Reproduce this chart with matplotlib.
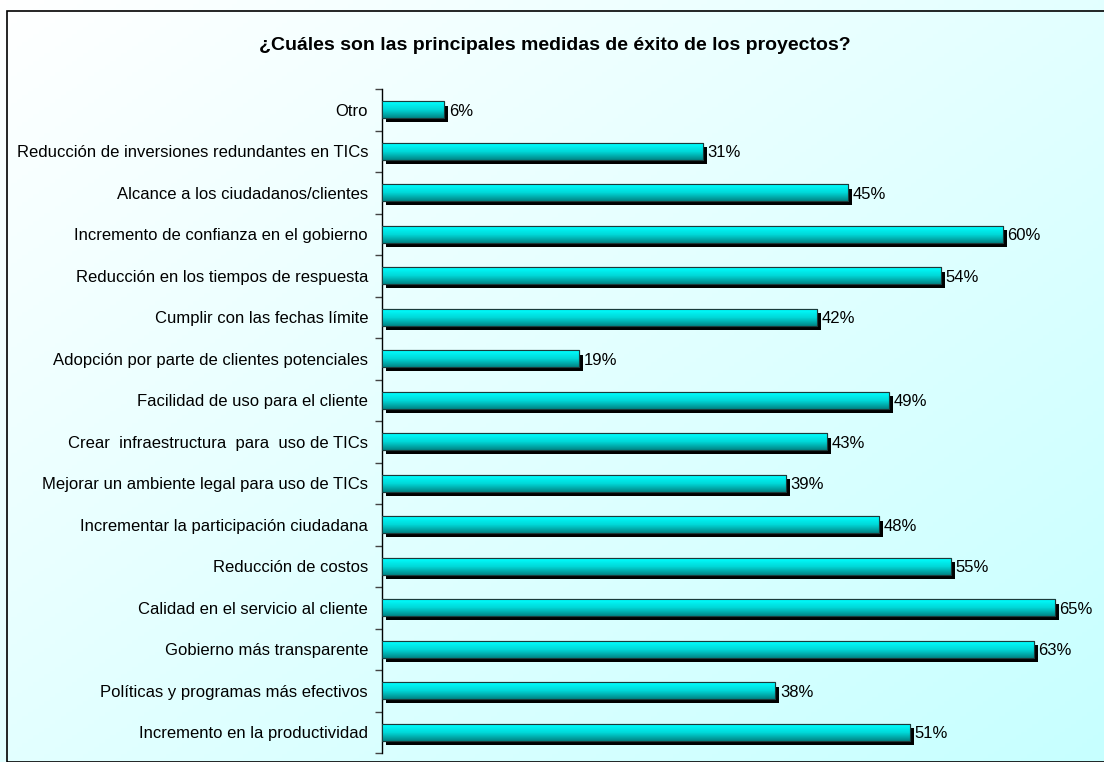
import numpy as np
import matplotlib.pyplot as plt
import matplotlib.patheffects as pe
from matplotlib.patches import Rectangle
from matplotlib.colors import LinearSegmentedColormap

plt.rcParams['font.family'] = ['Liberation Sans', 'DejaVu Sans']

# data, top to bottom as in the chart
labels = ["Otro",
          "Reducción de inversiones redundantes en TICs",
          "Alcance a los ciudadanos/clientes",
          "Incremento de confianza en el gobierno",
          "Reducción en los tiempos de respuesta",
          "Cumplir con las fechas límite",
          "Adopción por parte de clientes potenciales",
          "Facilidad de uso para el cliente",
          "Crear  infraestructura  para  uso de TICs",
          "Mejorar un ambiente legal para uso de TICs",
          "Incrementar la participación ciudadana",
          "Reducción de costos",
          "Calidad en el servicio al cliente",
          "Gobierno más transparente",
          "Políticas y programas más efectivos",
          "Incremento en la productividad"]
values = [6, 31, 45, 60, 54, 42, 19, 49, 43, 39, 48, 55, 65, 63, 38, 51]
title = "¿Cuáles son las principales medidas de éxito de los proyectos?"

W, H = 1104, 762
fig = plt.figure(figsize=(W / 100, H / 100), dpi=100)

# background gradient (white top-left -> light cyan bottom-right)
bg = fig.add_axes([0, 0, 1, 1], zorder=-10)
gx, gy = np.meshgrid(np.linspace(0, 1, 200), np.linspace(0, 1, 200))
t = np.clip((gx + gy) / 2.0, 0, 1)
c0 = np.array([1.0, 1.0, 1.0])
c1 = np.array([0.78, 1.0, 1.0])
img = c0[None, None, :] * (1 - t[..., None]) + c1[None, None, :] * t[..., None]
bg.imshow(img, extent=[0, 1, 0, 1], aspect='auto', origin='upper')
bg.add_patch(Rectangle((7 / W, 0), 1.0, 1 - 11 / H, fill=False, ec='black', lw=1.2,
                       transform=bg.transAxes))
bg.set_xlim(0, 1)
bg.set_ylim(0, 1)
bg.axis('off')

fig.text(555 / W, 1 - 46 / H, title, ha='center', va='center',
         fontsize=14, fontweight='bold')

ax = fig.add_axes([382 / W, 9 / H, 714 / W, 664 / H])
ax.patch.set_alpha(0)
n = len(labels)
y = np.arange(n)
bars = ax.barh(y, values, height=0.4, color='#00e0e0', ec='#1a3a3a', lw=0.8,
               zorder=3)

# cylinder-like shading: bright cyan on top, dark teal at the bottom
grad = np.linspace(0, 1, 64).reshape(-1, 1)
cmap = LinearSegmentedColormap.from_list('cyl', ['#008585', '#00d8d8', '#00ffff'])
for b in bars:
    b.set_path_effects([pe.SimplePatchShadow(offset=(3, -3), shadow_rgbFace='black',
                                             alpha=1.0), pe.Normal()])
    x0, y0 = b.get_x(), b.get_y()
    w, h = b.get_width(), b.get_height()
    im = ax.imshow(grad, extent=[x0, x0 + w, y0 + h, y0], cmap=cmap, aspect='auto',
                   zorder=4, origin='lower')
    im.set_clip_path(b)
    edge = Rectangle((x0, y0), w, h, fill=False, ec='#1a3a3a', lw=0.8, zorder=5)
    ax.add_patch(edge)

for yi, v in zip(y, values):
    ax.text(v + 0.45, yi, f"{v}%", va='center_baseline', ha='left', fontsize=12,
            zorder=6)

ax.set_xlim(0, 69)
ax.set_ylim(n - 0.5, -0.5)
ax.set_yticks(y)
ax.set_yticklabels(labels, fontsize=12)
ax.tick_params(axis='y', which='major', length=0, pad=10)
ax.set_yticks(np.arange(-0.5, n, 1), minor=True)
ax.tick_params(axis='y', which='minor', length=5, color='#444444', width=1)
ax.set_xticks([])
for s in ['top', 'right', 'bottom']:
    ax.spines[s].set_visible(False)
ax.spines['left'].set_color('black')
ax.spines['left'].set_linewidth(1)

fig.savefig('out.png', dpi=100)
